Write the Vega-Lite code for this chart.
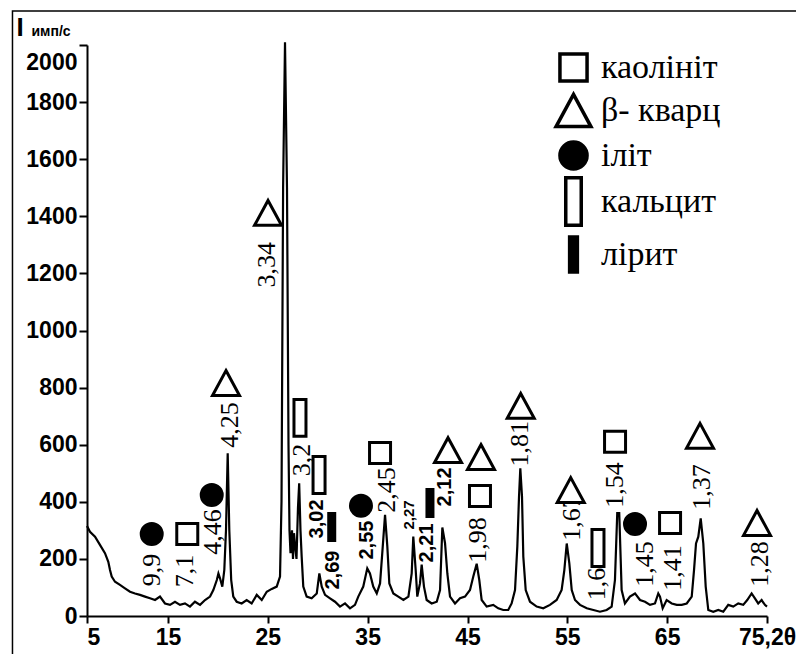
{
 "$schema": "https://vega.github.io/schema/vega-lite/v6.json",
 "width": 680,
 "height": 571,
 "autosize": "none",
 "padding": {"left": 87, "top": 45, "right": 29, "bottom": 38},
 "background": "white",
 "config": {"view": {"stroke": null}, "font": "Liberation Sans"},
 "datasets": {
  "curve": [
   {"t":5.0,"i":315},{"t":5.37,"i":295},{"t":5.99,"i":278},{"t":6.6,"i":249},{"t":7.22,"i":220},{"t":7.63,"i":190},{"t":7.84,"i":161},{"t":8.05,"i":138},{"t":8.46,"i":120},{"t":9.07,"i":109},{"t":9.69,"i":97},{"t":10.31,"i":85},{"t":10.93,"i":79},{"t":11.54,"i":74},{"t":12.16,"i":68},{"t":12.78,"i":62},{"t":13.4,"i":56},{"t":14.01,"i":68},{"t":14.63,"i":44},{"t":15.2,"i":39},{"t":15.7,"i":50},{"t":16.2,"i":39},{"t":16.7,"i":44},{"t":17.2,"i":33},{"t":17.7,"i":50},{"t":18.21,"i":39},{"t":18.71,"i":56},{"t":19.21,"i":68},{"t":19.54,"i":91},{"t":19.89,"i":126},{"t":20.05,"i":149},{"t":20.21,"i":132},{"t":20.44,"i":103},{"t":20.64,"i":161},{"t":20.81,"i":301},{"t":20.98,"i":570},{"t":21.14,"i":301},{"t":21.33,"i":126},{"t":21.54,"i":68},{"t":21.88,"i":50},{"t":22.38,"i":44},{"t":22.88,"i":56},{"t":23.38,"i":44},{"t":23.89,"i":74},{"t":24.39,"i":56},{"t":24.89,"i":85},{"t":25.39,"i":95},{"t":25.89,"i":103},{"t":26.22,"i":138},{"t":26.37,"i":400},{"t":26.53,"i":1500},{"t":26.72,"i":2010},{"t":26.92,"i":1500},{"t":27.07,"i":600},{"t":27.17,"i":300},{"t":27.27,"i":220},{"t":27.42,"i":300},{"t":27.52,"i":200},{"t":27.62,"i":290},{"t":27.72,"i":250},{"t":27.87,"i":200},{"t":28.02,"i":380},{"t":28.14,"i":465},{"t":28.27,"i":300},{"t":28.39,"i":208},{"t":28.55,"i":103},{"t":28.89,"i":68},{"t":29.39,"i":62},{"t":29.9,"i":79},{"t":30.16,"i":149},{"t":30.4,"i":103},{"t":30.73,"i":74},{"t":31.23,"i":62},{"t":31.73,"i":50},{"t":32.23,"i":33},{"t":32.73,"i":44},{"t":33.23,"i":27},{"t":33.73,"i":39},{"t":34.06,"i":68},{"t":34.56,"i":103},{"t":34.96,"i":167},{"t":35.23,"i":149},{"t":35.56,"i":103},{"t":35.91,"i":79},{"t":36.24,"i":114},{"t":36.51,"i":243},{"t":36.74,"i":354},{"t":36.97,"i":243},{"t":37.17,"i":114},{"t":37.57,"i":79},{"t":38.07,"i":68},{"t":38.58,"i":56},{"t":39.08,"i":68},{"t":39.41,"i":149},{"t":39.57,"i":278},{"t":39.81,"i":161},{"t":39.97,"i":68},{"t":40.24,"i":114},{"t":40.41,"i":180},{"t":40.64,"i":103},{"t":40.91,"i":56},{"t":41.41,"i":44},{"t":41.92,"i":50},{"t":42.25,"i":91},{"t":42.48,"i":310},{"t":42.75,"i":255},{"t":42.98,"i":149},{"t":43.25,"i":68},{"t":43.75,"i":44},{"t":44.25,"i":62},{"t":44.75,"i":68},{"t":45.25,"i":91},{"t":45.58,"i":138},{"t":45.92,"i":183},{"t":46.18,"i":126},{"t":46.42,"i":56},{"t":46.92,"i":33},{"t":47.58,"i":39},{"t":48.08,"i":27},{"t":48.58,"i":21},{"t":49.08,"i":21},{"t":49.42,"i":44},{"t":49.76,"i":91},{"t":49.99,"i":243},{"t":50.16,"i":418},{"t":50.29,"i":517},{"t":50.46,"i":418},{"t":50.59,"i":208},{"t":50.83,"i":91},{"t":51.26,"i":50},{"t":51.93,"i":33},{"t":52.59,"i":27},{"t":53.26,"i":39},{"t":53.93,"i":56},{"t":54.43,"i":91},{"t":54.7,"i":161},{"t":54.94,"i":254},{"t":55.2,"i":184},{"t":55.44,"i":91},{"t":55.77,"i":56},{"t":56.27,"i":39},{"t":56.95,"i":27},{"t":57.61,"i":21},{"t":58.27,"i":15},{"t":58.94,"i":21},{"t":59.44,"i":33},{"t":59.77,"i":126},{"t":60.0,"i":360},{"t":60.2,"i":360},{"t":60.44,"i":91},{"t":60.77,"i":44},{"t":61.27,"i":68},{"t":61.78,"i":79},{"t":62.28,"i":56},{"t":62.78,"i":50},{"t":63.28,"i":39},{"t":63.78,"i":44},{"t":64.11,"i":79},{"t":64.28,"i":68},{"t":64.55,"i":27},{"t":64.95,"i":56},{"t":65.46,"i":44},{"t":65.96,"i":39},{"t":66.46,"i":39},{"t":66.96,"i":44},{"t":67.46,"i":68},{"t":67.69,"i":161},{"t":67.89,"i":254},{"t":68.12,"i":278},{"t":68.36,"i":342},{"t":68.62,"i":254},{"t":68.86,"i":103},{"t":69.12,"i":21},{"t":69.62,"i":15},{"t":70.12,"i":21},{"t":70.62,"i":15},{"t":71.12,"i":39},{"t":71.62,"i":33},{"t":72.12,"i":44},{"t":72.62,"i":39},{"t":73.02,"i":56},{"t":73.46,"i":79},{"t":73.79,"i":62},{"t":74.12,"i":44},{"t":74.46,"i":56},{"t":74.79,"i":39},{"t":75.0,"i":33}
  ],
  "frame": [
   {"t": -4.2, "i": -140}, {"t": -4.2, "i": 2119}, {"t": 78.2, "i": 2119}
  ],
  "unitLabel": [
   {"u": "имп/с", "t": 0.56, "i": 2032}
  ],
  "markers": [
   {"m":"іліт","t":12.99,"i":287},{"m":"каолініт","t":16.93,"i":287},{"m":"іліт","t":19.38,"i":424},{"m":"β- кварц","t":20.81,"i":816},{"m":"β- кварц","t":25.02,"i":1412},{"m":"кальцит","t":28.22,"i":694},{"m":"кальцит","t":30.13,"i":494},{"m":"лірит","t":31.4,"i":312},{"m":"іліт","t":34.33,"i":386},{"m":"каолініт","t":36.24,"i":571},{"m":"лірит","t":41.24,"i":396},{"m":"β- кварц","t":43.05,"i":581},{"m":"β- кварц","t":46.35,"i":557},{"m":"каолініт","t":46.25,"i":420},{"m":"β- кварц","t":50.33,"i":736},{"m":"β- кварц","t":55.34,"i":441},{"m":"кальцит","t":58.07,"i":238},{"m":"каолініт","t":59.78,"i":610},{"m":"іліт","t":61.78,"i":322},{"m":"каолініт","t":65.29,"i":326},{"m":"β- кварц","t":68.29,"i":631},{"m":"β- кварц","t":74.0,"i":326}
  ],
  "serifLabels": [
   {"d":"9,9","t":12.99,"i":161},{"d":"7,1","t":16.7,"i":158},{"d":"4,46","t":19.54,"i":294},{"d":"4,25","t":21.21,"i":669},{"d":"3,34","t":24.89,"i":1230},{"d":"3,2","t":28.39,"i":546},{"d":"2,45","t":36.92,"i":441},{"d":"1,98","t":46.08,"i":266},{"d":"1,81","t":50.26,"i":603},{"d":"1,67","t":55.44,"i":343},{"d":"1,6","t":57.96,"i":112},{"d":"1,54","t":59.78,"i":459},{"d":"1,45","t":62.78,"i":182},{"d":"1,41","t":65.62,"i":168},{"d":"1,37","t":68.47,"i":452},{"d":"1,28","t":74.28,"i":182}
  ],
  "sansLabels": [
   {"d":"3,02","t":29.9,"i":340},{"d":"2,69","t":31.56,"i":161},{"d":"2,55","t":34.9,"i":266},{"d":"2,27","t":39.17,"i":354},{"d":"2,21","t":40.92,"i":256},{"d":"2,12","t":42.75,"i":452}
  ]
 },
 "encoding": {
  "x": {"field": "t", "type": "quantitative",
   "scale": {"domain": [5, 15, 75], "range": [0, 81, 680], "nice": false, "zero": false},
   "axis": {"title": null, "values": [5, 15, 25, 35, 45, 55, 65, 75], "grid": false,
    "labelExpr": "datum.value == 75 ? '75,2θ' : datum.label",
    "labelAlign": {"condition": {"test": "datum.value == 5", "value": "left"}, "value": "center"},
    "labelFont": "Liberation Sans", "labelFontSize": 23, "labelFontWeight": "bold", "labelColor": "black",
    "labelFlush": false, "labelPadding": 3, "labelOverlap": false,
    "domainColor": "black", "domainWidth": 2, "tickColor": "black", "tickWidth": 2, "tickSize": 7}},
  "y": {"field": "i", "type": "quantitative",
   "scale": {"domain": [0, 2000], "nice": false, "zero": true},
   "axis": {"title": "I", "titleAngle": 0, "titleX": -71, "titleY": -10, "titleAlign": "left", "titleBaseline": "alphabetic",
    "titleFont": "Liberation Sans", "titleFontSize": 26, "titleFontWeight": "bold", "titleColor": "black",
    "values": [0, 200, 400, 600, 800, 1000, 1200, 1400, 1600, 1800, 2000], "format": "d", "grid": false,
    "labelFont": "Liberation Sans", "labelFontSize": 23, "labelFontWeight": "bold", "labelColor": "black",
    "labelOffset": {"condition": {"test": "datum.value == 2000", "value": 17}, "value": 0},
    "labelFlush": false, "labelPadding": 2, "labelOverlap": false,
    "domainColor": "black", "domainWidth": 2, "tickColor": "black", "tickWidth": 2, "tickSize": 8}}
 },
 "layer": [
  {
   "data": {"name": "frame"},
   "mark": {"type": "line", "color": "black", "strokeWidth": 1.5, "clip": false}
  },
  {
   "data": {"name": "curve"},
   "mark": {"type": "line", "color": "black", "strokeWidth": 2.2, "interpolate": "linear"}
  },
  {
   "data": {"name": "serifLabels"},
   "mark": {"type": "text", "angle": 270, "font": "Liberation Serif, DejaVu Serif, serif", "fontSize": 26, "align": "center", "baseline": "middle", "color": "black"},
   "encoding": {"text": {"field": "d"}}
  },
  {
   "data": {"name": "sansLabels"},
   "mark": {"type": "text", "angle": 270, "font": "Liberation Sans", "fontWeight": "bold", "align": "center", "baseline": "middle", "color": "black"},
   "encoding": {"text": {"field": "d"}, "size": {"condition": {"test": "datum.d == '2,27'", "value": 15}, "value": 20}}
  },
  {
   "data": {"name": "markers"},
   "mark": {"type": "point", "filled": true, "size": 900, "strokeWidth": 3, "opacity": 1},
   "encoding": {
    "shape": {"field": "m", "type": "nominal",
     "scale": {"domain": ["каолініт", "β- кварц", "іліт", "кальцит", "лірит"],
      "range": ["M-0.7,-0.7H0.7V0.7H-0.7Z", "M0,-0.83L0.9,0.83H-0.9Z", "M-0.7,0A0.7,0.7 0 1,0 0.7,0A0.7,0.7 0 1,0 -0.7,0Z", "M-0.4,-1.23H0.4V1.23H-0.4Z", "M-0.2,-0.9H0.2V0.9H-0.2Z"]},
     "legend": {"title": null, "orient": "none", "legendX": 465, "legendY": 1, "symbolSize": 1500, "symbolStrokeWidth": 3.5, "symbolStrokeColor": "black",
      "labelFont": "Liberation Serif, DejaVu Serif, serif", "labelFontSize": 34, "labelColor": "black", "labelLimit": 300, "labelOffset": 6, "rowPadding": -7}},
    "fill": {"field": "m", "type": "nominal",
     "scale": {"domain": ["каолініт", "β- кварц", "іліт", "кальцит", "лірит"], "range": ["white", "white", "black", "white", "black"]}},
    "stroke": {"field": "m", "type": "nominal",
     "scale": {"domain": ["каолініт", "β- кварц", "іліт", "кальцит", "лірит"], "range": ["black", "black", "black", "black", "black"]}}
   }
  },
  {
   "data": {"name": "unitLabel"},
   "mark": {"type": "text", "font": "Liberation Sans", "fontWeight": "bold", "fontSize": 14, "align": "center", "baseline": "alphabetic", "color": "black", "clip": false},
   "encoding": {"text": {"field": "u"}}
  }
 ]
}
